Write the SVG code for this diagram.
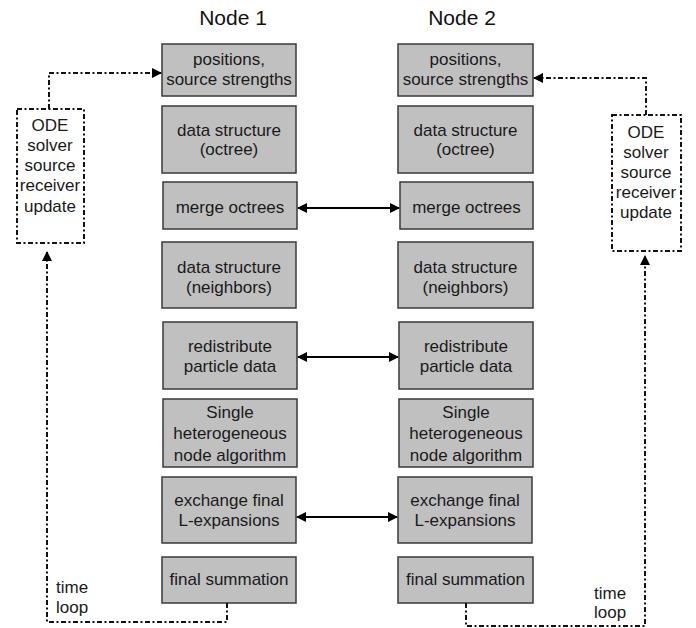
<svg xmlns="http://www.w3.org/2000/svg" width="696" height="628" viewBox="0 0 696 628">
<defs>
<style>
.box{fill:#c0c0c0;stroke:#3a3a3a;stroke-width:1.5}
.ode{fill:none;stroke:#111;stroke-width:2;stroke-dasharray:5,2.5,2,2.5}
.t{font-family:"Liberation Sans",Arial,sans-serif;font-size:17px;fill:#1a1a1a;text-anchor:middle}
.title{font-family:"Liberation Sans",Arial,sans-serif;font-size:21px;fill:#111;text-anchor:middle}
.tl{font-family:"Liberation Sans",Arial,sans-serif;font-size:17px;fill:#1a1a1a}
.solid{fill:none;stroke:#000;stroke-width:2}
.dash{fill:none;stroke:#111;stroke-width:2;stroke-dasharray:5,2.5,2,2.5}
</style>
<marker id="ah" viewBox="0 0 10 10" refX="9" refY="5" markerWidth="5" markerHeight="5" orient="auto-start-reverse" markerUnits="strokeWidth">
<path d="M0,0 L10,5 L0,10 z" fill="#000"/>
</marker>
</defs>
<rect width="696" height="628" fill="#fff"/>
<text class="title" x="233" y="25">Node 1</text>
<text class="title" x="462" y="25">Node 2</text>

<g id="n1-positions"><rect class="box" x="162" y="44" width="134" height="52"/><text class="t" x="229" y="65">positions,</text><text class="t" x="229" y="85">source strengths</text></g>
<g id="n1-octree"><rect class="box" x="162" y="106" width="134" height="67"/><text class="t" x="229" y="136">data structure</text><text class="t" x="229" y="155">(octree)</text></g>
<g id="n1-merge"><rect class="box" x="163" y="182" width="134" height="47"/><text class="t" x="230" y="213">merge octrees</text></g>
<g id="n1-neighbors"><rect class="box" x="162" y="242" width="134" height="66"/><text class="t" x="229" y="273">data structure</text><text class="t" x="229" y="293">(neighbors)</text></g>
<g id="n1-redistribute"><rect class="box" x="163" y="322" width="134" height="67"/><text class="t" x="230" y="352">redistribute</text><text class="t" x="230" y="372">particle data</text></g>
<g id="n1-single"><rect class="box" x="163" y="399" width="134" height="68"/><text class="t" x="230" y="418">Single</text><text class="t" x="230" y="439">heterogeneous</text><text class="t" x="230" y="461">node algorithm</text></g>
<g id="n1-exchange"><rect class="box" x="162" y="477" width="134" height="66"/><text class="t" x="229" y="506">exchange final</text><text class="t" x="229" y="526">L-expansions</text></g>
<g id="n1-final"><rect class="box" x="162" y="557" width="134" height="46"/><text class="t" x="229" y="585">final summation</text></g>

<g id="n2-positions"><rect class="box" x="398" y="44" width="135" height="52"/><text class="t" x="465.5" y="65">positions,</text><text class="t" x="465.5" y="85">source strengths</text></g>
<g id="n2-octree"><rect class="box" x="398" y="106" width="135" height="67"/><text class="t" x="465.5" y="136">data structure</text><text class="t" x="465.5" y="155">(octree)</text></g>
<g id="n2-merge"><rect class="box" x="400" y="182" width="133" height="47"/><text class="t" x="466.5" y="213">merge octrees</text></g>
<g id="n2-neighbors"><rect class="box" x="398" y="242" width="135" height="66"/><text class="t" x="465.5" y="273">data structure</text><text class="t" x="465.5" y="293">(neighbors)</text></g>
<g id="n2-redistribute"><rect class="box" x="399" y="322" width="134" height="67"/><text class="t" x="466" y="352">redistribute</text><text class="t" x="466" y="372">particle data</text></g>
<g id="n2-single"><rect class="box" x="399" y="399" width="134" height="68"/><text class="t" x="466" y="418">Single</text><text class="t" x="466" y="439">heterogeneous</text><text class="t" x="466" y="461">node algorithm</text></g>
<g id="n2-exchange"><rect class="box" x="398" y="477" width="134" height="66"/><text class="t" x="465" y="506">exchange final</text><text class="t" x="465" y="526">L-expansions</text></g>
<g id="n2-final"><rect class="box" x="398" y="557" width="135" height="46"/><text class="t" x="465.5" y="585">final summation</text></g>

<g id="ode1"><rect class="ode" x="17" y="109" width="67" height="134"/><text class="t" x="50" y="131">ODE</text><text class="t" x="50" y="151">solver</text><text class="t" x="50" y="171">source</text><text class="t" x="50" y="191">receiver</text><text class="t" x="50" y="212">update</text></g>
<g id="ode2"><rect class="ode" x="612" y="115" width="69" height="136"/><text class="t" x="646" y="138">ODE</text><text class="t" x="646" y="158">solver</text><text class="t" x="646" y="178">source</text><text class="t" x="646" y="198">receiver</text><text class="t" x="646" y="218">update</text></g>

<g id="connectors">
<line class="solid" x1="298" y1="208" x2="399" y2="208" marker-start="url(#ah)" marker-end="url(#ah)"/>
<line class="solid" x1="298" y1="357" x2="398" y2="357" marker-start="url(#ah)" marker-end="url(#ah)"/>
<line class="solid" x1="297" y1="517" x2="397" y2="517" marker-start="url(#ah)" marker-end="url(#ah)"/>
<path class="dash" d="M49,109 V73 H161" marker-end="url(#ah)"/>
<path class="dash" d="M646,115 V78 H534" marker-end="url(#ah)"/>
<path class="dash" d="M227,603 V622 H47 V252" marker-end="url(#ah)"/>
<path class="dash" d="M466,603 V626 H645 V256" marker-end="url(#ah)"/>
</g>
<text class="tl" x="56" y="593">time</text>
<text class="tl" x="56" y="613">loop</text>
<text class="tl" x="594" y="599">time</text>
<text class="tl" x="594" y="618">loop</text>
</svg>
